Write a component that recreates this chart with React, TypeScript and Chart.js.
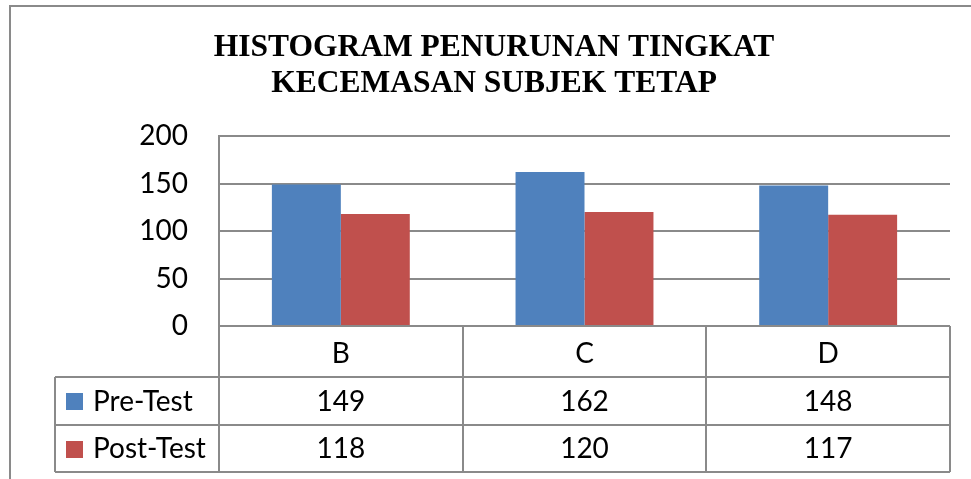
import React, { useEffect, useRef } from "react";
import { Chart, registerables } from "chart.js";

Chart.register(...registerables);

const categories = ["B", "C", "D"];
const seriesNames = ["Pre-Test", "Post-Test"];
const preTest = [149, 162, 148];
const postTest = [118, 120, 117];
const yMin = 0;
const yMax = 200;
const yStep = 50;
const titleLines = ["HISTOGRAM PENURUNAN TINGKAT", "KECEMASAN SUBJEK TETAP"];
const seriesColors = ["#4F81BD", "#C0504D"];

const GRID = "#8a8a8a";
const SANS = "Lato";

const excelPlugin = {
  id: "excelTable",
  beforeDraw(chart: any) {
    const ctx = chart.ctx;
    ctx.save();
    ctx.fillStyle = "#ffffff";
    ctx.fillRect(0, 0, chart.width, chart.height);
    ctx.strokeStyle = GRID;
    ctx.lineWidth = 2;
    ctx.beginPath();
    ctx.moveTo(10, chart.height);
    ctx.lineTo(10, 6);
    ctx.lineTo(chart.width, 6);
    ctx.stroke();
    ctx.restore();
  },
  afterDraw(chart: any) {
    const ctx = chart.ctx;
    const x = chart.scales.x;
    const area = chart.chartArea;
    const labels = chart.data.labels as string[];
    const datasets = chart.data.datasets;
    const n = labels.length;
    const step = n > 1 ? x.getPixelForValue(1) - x.getPixelForValue(0) : area.right - area.left;
    const top = area.bottom;
    const bottom = x.bottom;
    const headerH = 51;
    const rowH = (bottom - top - headerH) / datasets.length;
    const tableLeft = 55;

    ctx.save();
    // Title
    ctx.fillStyle = "#000";
    ctx.textAlign = "center";
    ctx.textBaseline = "alphabetic";
    ctx.font = "bold 31.5px 'Liberation Serif'";
    titleLines.forEach((t, i) => ctx.fillText(t, 494, 56 + i * 36));

    // Table lines
    ctx.strokeStyle = GRID;
    ctx.lineWidth = 2;
    ctx.beginPath();
    for (let i = 0; i <= n; i++) {
      const bx = Math.round(x.getPixelForValue(0) - step / 2 + i * step);
      ctx.moveTo(bx, top);
      ctx.lineTo(bx, bottom);
    }
    for (let r = 0; r <= datasets.length; r++) {
      const y = Math.round(top + headerH + r * rowH);
      ctx.moveTo(tableLeft, y);
      ctx.lineTo(area.right, y);
    }
    ctx.moveTo(tableLeft, top + headerH);
    ctx.lineTo(tableLeft, bottom);
    ctx.stroke();

    // Header labels
    ctx.font = `28px ${SANS}`;
    ctx.textBaseline = "middle";
    ctx.textAlign = "center";
    ctx.fillStyle = "#000";
    labels.forEach((l, i) => {
      ctx.fillText(l, x.getPixelForValue(i), top + headerH / 2 + 2);
    });

    // Rows
    datasets.forEach((ds: any, r: number) => {
      const cy = top + headerH + r * rowH + rowH / 2 + 1;
      ctx.fillStyle = ds.backgroundColor;
      ctx.fillRect(66, Math.round(cy - 8.5), 17, 17);
      ctx.fillStyle = "#000";
      ctx.textAlign = "left";
      ctx.fillText(ds.label, 93, cy);
      ctx.textAlign = "center";
      (ds.data as number[]).forEach((v, i) => {
        ctx.fillText(String(v), x.getPixelForValue(i), cy);
      });
    });
    ctx.restore();
  },
};

export default function App() {
  const canvasRef = useRef<HTMLCanvasElement | null>(null);

  useEffect(() => {
    const canvas = canvasRef.current;
    if (!canvas) return;
    const chart = new Chart(canvas, {
      type: "bar",
      data: {
        labels: categories,
        datasets: [
          { label: seriesNames[0], data: preTest, backgroundColor: seriesColors[0] },
          { label: seriesNames[1], data: postTest, backgroundColor: seriesColors[1] },
        ],
      },
      options: {
        responsive: false,
        animation: false,
        devicePixelRatio: 1,
        layout: { padding: { left: 0, right: 21, top: 136, bottom: 7 } },
        datasets: { bar: { categoryPercentage: 0.566, barPercentage: 1 } },
        plugins: {
          legend: { display: false },
          title: { display: false },
          tooltip: { enabled: false },
        },
        scales: {
          x: {
            offset: true,
            grid: { display: false },
            border: { display: false },
            ticks: { display: false },
            afterFit: (s: any) => {
              s.height = 146;
            },
          },
          y: {
            min: yMin,
            max: yMax,
            ticks: {
              stepSize: yStep,
              padding: 31,
              color: "#000",
              font: { family: SANS, size: 28 },
            },
            grid: { color: GRID, lineWidth: 2, drawTicks: false },
            border: { display: true, color: GRID, width: 2 },
            afterFit: (s: any) => {
              s.width = 219;
            },
          },
        },
      },
      plugins: [excelPlugin],
    });
    return () => chart.destroy();
  }, []);

  return (
    <div style={{ position: "absolute", left: 0, top: 0, width: 971, height: 479 }}>
      <canvas ref={canvasRef} width={971} height={479} style={{ display: "block" }} />
    </div>
  );
}
